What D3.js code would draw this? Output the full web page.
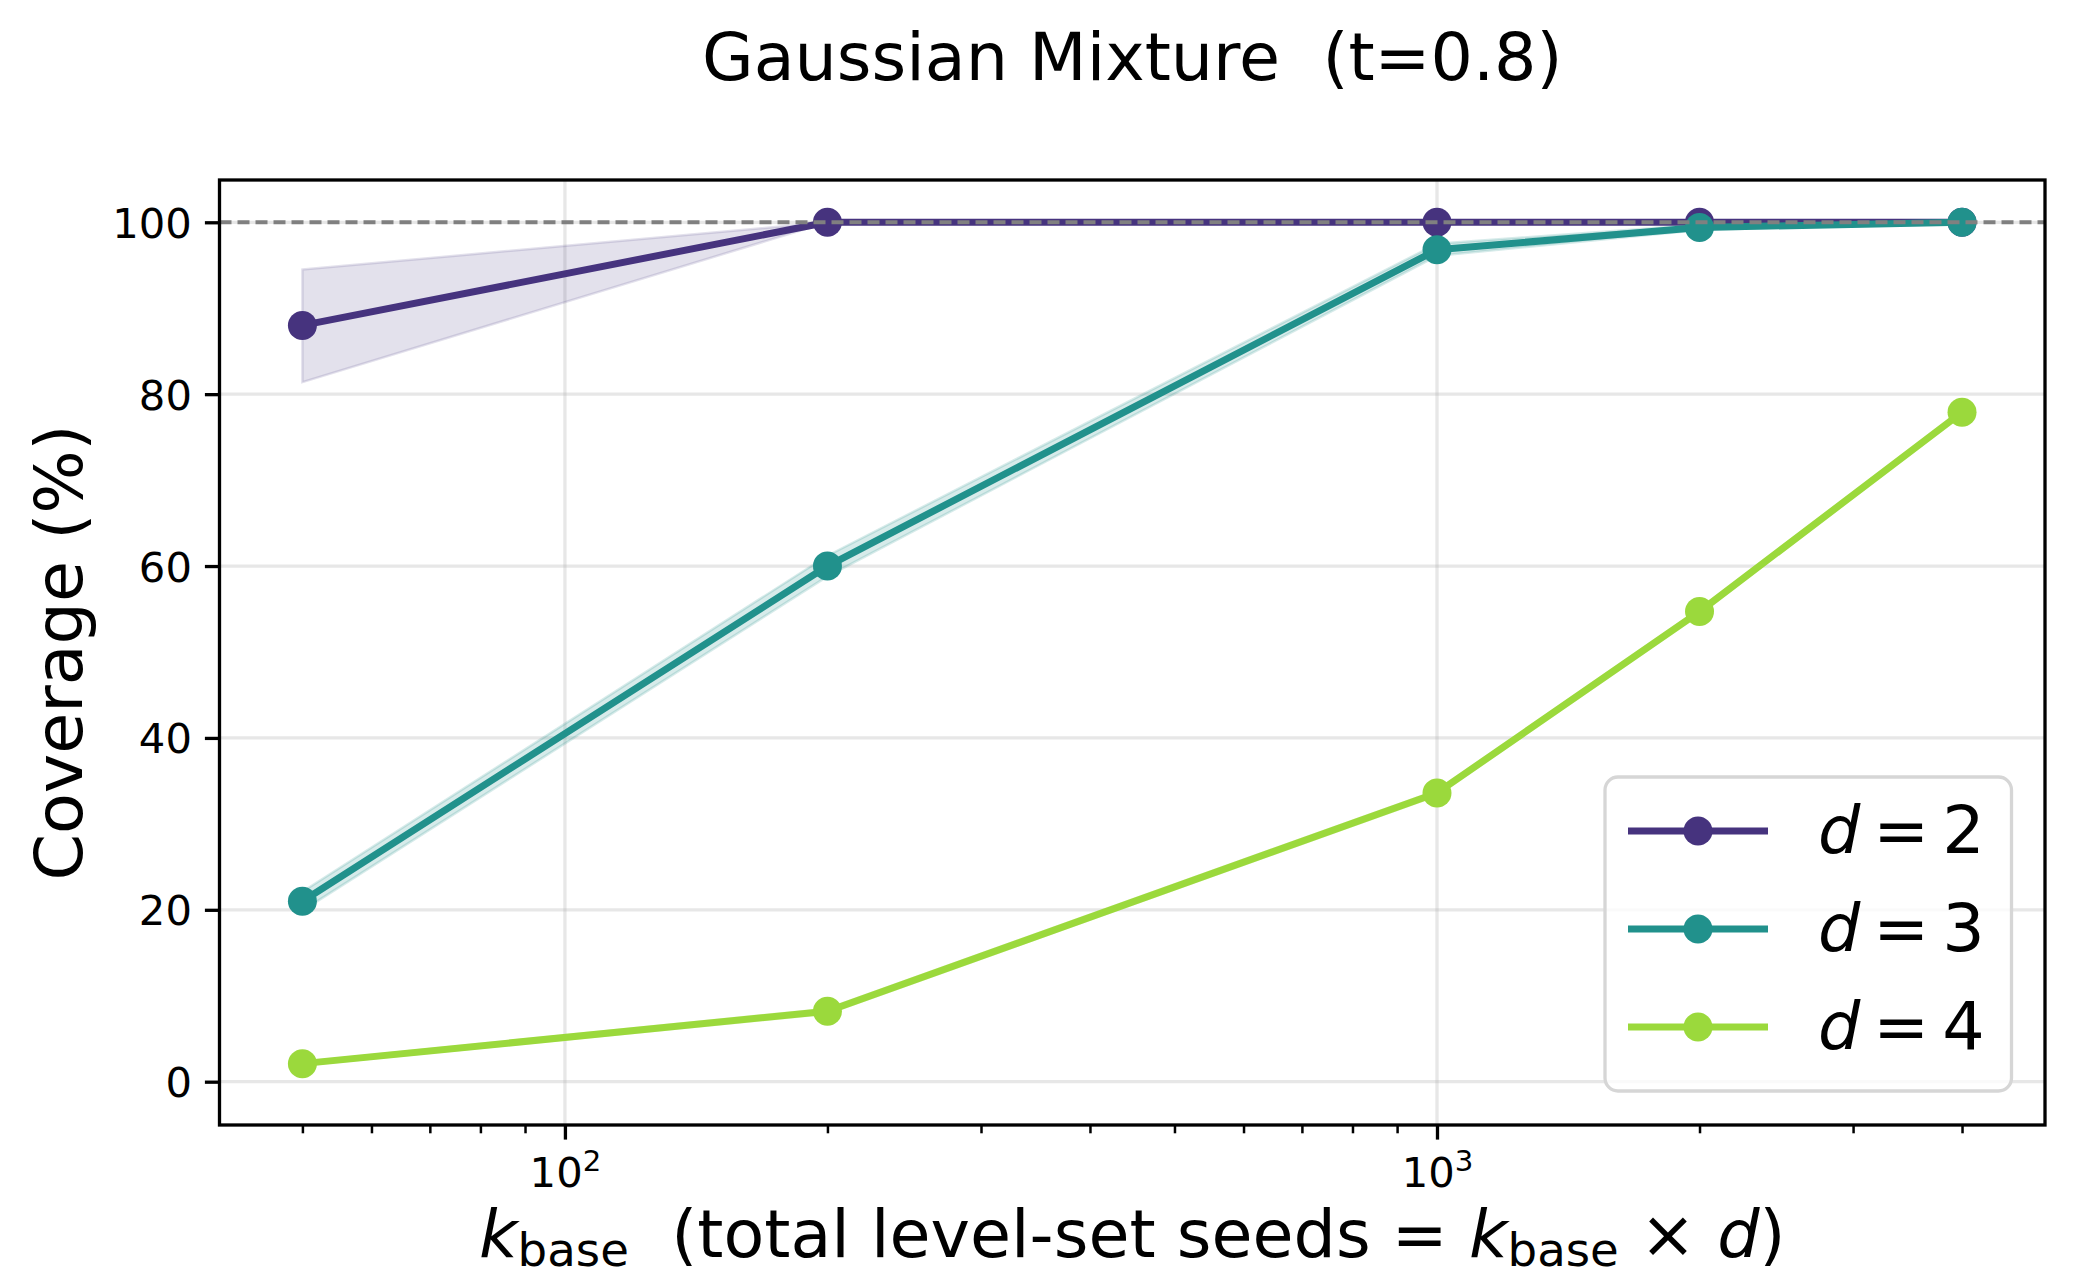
<!DOCTYPE html>
<html>
<head>
<meta charset="utf-8">
<script src="https://cdn.jsdelivr.net/npm/d3@7"></script>
<style>
  html, body { margin: 0; padding: 0; background: #ffffff; }
  svg text { font-family: "DejaVu Sans", sans-serif; white-space: pre; }
</style>
</head>
<body>
<svg id="chart" width="2075" height="1278"></svg>
<script>
// ---------- data ----------
const kBase = [50, 200, 1000, 2000, 4000];
const seriesNames = ["2", "3", "4"];
const seriesColors = ["#46337e", "#21918c", "#9bd93c"];
const d2Mean = [88.0, 100.0, 100.0, 100.0, 100.0];
const d2Lo   = [81.4, 100.0, 100.0, 100.0, 100.0];
const d2Hi   = [94.5, 100.0, 100.0, 100.0, 100.0];
const d3Mean = [21.0, 60.0, 96.8, 99.4, 100.0];
const d3Lo   = [19.9, 58.8, 96.1, 99.1, 100.0];
const d3Hi   = [22.1, 61.2, 97.5, 99.7, 100.0];
const d4Mean = [2.1, 8.2, 33.6, 54.7, 77.9];
const d4Lo   = [1.9, 7.9, 33.3, 54.4, 77.6];
const d4Hi   = [2.3, 8.5, 33.9, 55.0, 78.2];
const yTicks = [0, 20, 40, 60, 80, 100];
const xMajor = [100, 1000];
const xMajorExp = ["2", "3"];
const xMinor = [50, 60, 70, 80, 90, 200, 300, 400, 500, 600, 700, 800, 900, 2000, 3000, 4000];
const titleText = "Gaussian Mixture  (t=0.8)";
const yLabelText = "Coverage (%)";

const series = [
  { name: seriesNames[0], color: seriesColors[0], mean: d2Mean, lo: d2Lo, hi: d2Hi, bandOp: 0.15 },
  { name: seriesNames[1], color: seriesColors[1], mean: d3Mean, lo: d3Lo, hi: d3Hi, bandOp: 0.18 },
  { name: seriesNames[2], color: seriesColors[2], mean: d4Mean, lo: d4Lo, hi: d4Hi, bandOp: 0.18 }
];

// ---------- layout ----------
const L = 219.5, R = 2045, T = 180, B = 1125;
const FS = 66.7, TFS = 41.7;
const svg = d3.select("#chart");

const x = d3.scaleLog().domain([Math.pow(10, 1.6039), Math.pow(10, 3.6972)]).range([L, R]);
const y = d3.scaleLinear().domain([-5.04, 104.92]).range([B, T]);

// grid
const grid = svg.append("g");
grid.selectAll("line.gy").data(yTicks).enter().append("line")
  .attr("x1", L).attr("x2", R).attr("y1", d => y(d)).attr("y2", d => y(d))
  .attr("stroke", "#b0b0b0").attr("stroke-opacity", 0.3).attr("stroke-width", 3.3);
grid.selectAll("line.gx").data(xMajor).enter().append("line")
  .attr("y1", T).attr("y2", B).attr("x1", d => x(d)).attr("x2", d => x(d))
  .attr("stroke", "#b0b0b0").attr("stroke-opacity", 0.3).attr("stroke-width", 3.3);

// clip
svg.append("clipPath").attr("id", "clip").append("rect")
  .attr("x", L).attr("y", T).attr("width", R - L).attr("height", B - T);
const plot = svg.append("g").attr("clip-path", "url(#clip)");

const area = d3.area().x((d, i) => x(kBase[i])).y0(d => y(d[0])).y1(d => y(d[1]));
const line = d3.line().x((d, i) => x(kBase[i])).y(d => y(d));

series.forEach(s => {
  const bandData = kBase.map((k, i) => [s.lo[i], s.hi[i]]);
  plot.append("path").datum(bandData).attr("d", area)
    .attr("fill", s.color).attr("fill-opacity", s.bandOp)
    .attr("stroke", s.color).attr("stroke-opacity", s.bandOp).attr("stroke-width", 2.5);
  plot.append("path").datum(s.mean).attr("d", line)
    .attr("fill", "none").attr("stroke", s.color).attr("stroke-width", 7)
    .attr("stroke-linejoin", "round").attr("stroke-linecap", "butt");
  plot.selectAll(null).data(s.mean).enter().append("circle")
    .attr("cx", (d, i) => x(kBase[i])).attr("cy", d => y(d)).attr("r", 14.5)
    .attr("fill", s.color);
});

// reference dashed line at 100
plot.append("line").attr("x1", L).attr("x2", R).attr("y1", y(100)).attr("y2", y(100))
  .attr("stroke", "#808080").attr("stroke-width", 4).attr("stroke-dasharray", "12,6");

// y axis
const yAxis = svg.append("g").attr("transform", `translate(${L},0)`)
  .call(d3.axisLeft(y).tickValues(yTicks).tickSize(14.6).tickPadding(13));
yAxis.select(".domain").remove();
yAxis.selectAll(".tick line").attr("stroke", "#000").attr("stroke-width", 3.3);
yAxis.selectAll(".tick text").attr("font-size", TFS).attr("fill", "#000")
  .attr("font-family", "DejaVu Sans").attr("dy", "0.36em");

// x axis: minor
const xMinAxis = svg.append("g").attr("transform", `translate(0,${B})`)
  .call(d3.axisBottom(x).tickValues(xMinor).tickSize(8.3).tickFormat(() => ""));
xMinAxis.select(".domain").remove();
xMinAxis.selectAll(".tick line").attr("stroke", "#000").attr("stroke-width", 2.5);
// x axis: major
const xAxis = svg.append("g").attr("transform", `translate(0,${B})`)
  .call(d3.axisBottom(x).tickValues(xMajor).tickSize(14.6).tickFormat(() => ""));
xAxis.select(".domain").remove();
xAxis.selectAll(".tick line").attr("stroke", "#000").attr("stroke-width", 3.3);
xAxis.selectAll(".tick").each(function(d, i) {
  const t = d3.select(this).append("text").attr("y", 62).attr("text-anchor", "middle")
    .attr("font-size", TFS).attr("fill", "#000").attr("font-family", "DejaVu Sans");
  t.append("tspan").text("10");
  t.append("tspan").attr("dy", -16).attr("font-size", TFS * 0.7).text(xMajorExp[i]);
});

// spines
svg.append("rect").attr("x", L).attr("y", T).attr("width", R - L).attr("height", B - T)
  .attr("fill", "none").attr("stroke", "#000").attr("stroke-width", 3.3);

// title
svg.append("text").attr("x", (L + R) / 2).attr("y", 80).attr("text-anchor", "middle")
  .attr("font-size", FS).attr("fill", "#000").text(titleText);

// y label
svg.append("text").attr("transform", `translate(82,${(T + B) / 2}) rotate(-90)`)
  .attr("text-anchor", "middle").attr("font-size", FS).attr("fill", "#000").text(yLabelText);

// x label (math-like)
const xl = svg.append("text").attr("x", (L + R) / 2).attr("y", 1257).attr("text-anchor", "middle")
  .attr("font-size", FS).attr("fill", "#000");
xl.append("tspan").attr("font-style", "italic").text("k");
xl.append("tspan").attr("font-size", FS * 0.7).attr("dy", 9).text("base");
xl.append("tspan").attr("dy", -9).text("  (total level-set seeds ");
xl.append("tspan").text("= ");
xl.append("tspan").attr("font-style", "italic").text("k");
xl.append("tspan").attr("font-size", FS * 0.7).attr("dy", 9).text("base");
xl.append("tspan").attr("dy", -9).text(" \u00d7 ");
xl.append("tspan").attr("font-style", "italic").text("d");
xl.append("tspan").text(")");

// legend
const lg = svg.append("g");
lg.append("rect").attr("x", 1605).attr("y", 777).attr("width", 406.5).attr("height", 314)
  .attr("rx", 13).attr("ry", 13)
  .attr("fill", "#fff").attr("fill-opacity", 0.8)
  .attr("stroke", "#d6d6d6").attr("stroke-width", 3.3);
series.forEach((s, i) => {
  const cy = 831 + i * 98;
  lg.append("line").attr("x1", 1628).attr("x2", 1768).attr("y1", cy).attr("y2", cy)
    .attr("stroke", s.color).attr("stroke-width", 7);
  lg.append("circle").attr("cx", 1698).attr("cy", cy).attr("r", 14.5).attr("fill", s.color);
  const t = lg.append("text").attr("x", 1818).attr("y", cy + 22).attr("font-size", FS).attr("fill", "#000");
  t.append("tspan").attr("font-style", "italic").text("d");
  t.append("tspan").attr("dx", 13).text("=");
  t.append("tspan").attr("dx", 13).text(s.name);
});
</script>
</body>
</html>
